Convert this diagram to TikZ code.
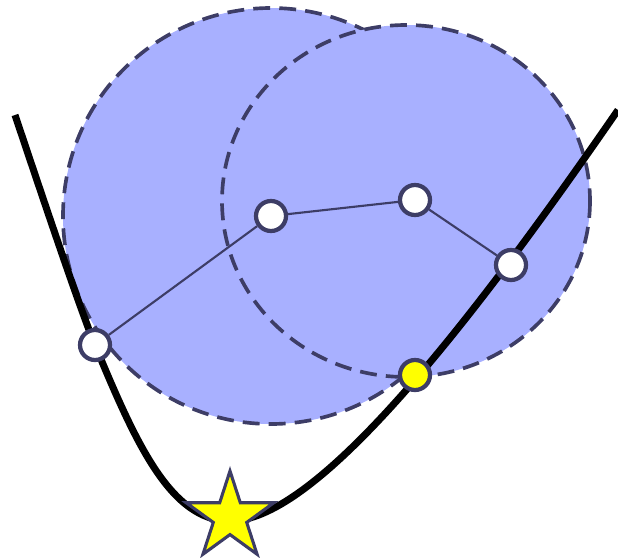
\documentclass[tikz,border=0pt]{standalone}
\usepackage{xcolor}
\usepackage{tikz}
\usetikzlibrary{shapes.geometric, positioning}

\definecolor{regfill}{RGB}{168,176,255}
\definecolor{navy}{RGB}{61,61,102}
\definecolor{hityel}{RGB}{255,255,0}

\begin{document}
\begin{tikzpicture}[x=0.025cm, y=-0.025cm]

  \useasboundingbox (0,0) rectangle (618,558);

  \tikzset{
    region/.style={fill=regfill, draw=navy, line width=2.6pt, dash pattern=on 12pt off 6.5pt},
    iter/.style={circle, fill=white, draw=navy, line width=3pt, minimum size=0.75cm, inner sep=0pt},
    best/.style={iter, fill=hityel},
    opt/.style={star, star points=5, star point ratio=2.618, fill=hityel, draw=navy,
                line width=2.2pt, minimum size=2.3cm, inner sep=0pt},
    link/.style={navy, line width=1.5pt}
  }

  %% Trust regions
  \path[region] (271,216) circle (208);
  \path[region] (406,201) ellipse (184 and 176);

  %% Objective curve
  \draw[line width=5pt] (15,115) .. controls (40,189.5) and (80,309) .. (95,345)
    .. controls (135,441) and (170,521) .. (230,521)
    .. controls (310,521) and (448,356.5) .. (618,110);

  %% Iterates
  \node[iter] (x0) at (95,345) {};
  \node[iter] (x1) at (271,216) {};
  \node[iter] (x2) at (415,200) {};
  \node[iter] (x3) at (511,265) {};
  \node[best] (xb) at (415,375) {};

  \draw[link] (x0) -- (x1);
  \draw[link] (x1) -- (x2);
  \draw[link] (x2) -- (x3);

  %% Minimum
  \node[opt] (xs) at (230,517) {};

\end{tikzpicture}
\end{document}
